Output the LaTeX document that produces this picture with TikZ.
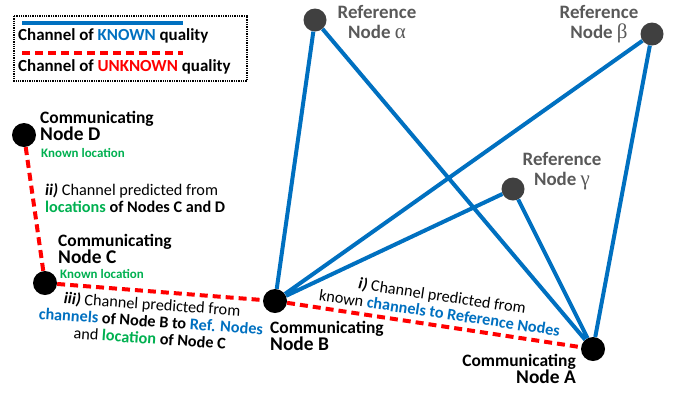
\documentclass[tikz,border=0pt]{standalone}
\usepackage{fontspec}
\setmainfont{Carlito}
\newfontfamily\greekfont{Liberation Serif}
\usepackage{xcolor}
\usetikzlibrary{positioning}
\definecolor{chblue}{HTML}{0070C0}
\definecolor{chred}{HTML}{FF0000}
\definecolor{locgreen}{HTML}{00B050}
\definecolor{refgray}{HTML}{404040}
\definecolor{reftext}{HTML}{595959}
\newcommand{\nodeline}[1]{{\fontsize{19.5}{20}\selectfont #1}}
\newcommand{\commline}[1]{{\fontsize{17.5}{20}\selectfont #1}}
\newcommand{\grk}[1]{{\greekfont\mdseries\fontsize{21}{20}\selectfont #1}}
\tikzset{
 commnode/.style={circle,fill=black,minimum size=24bp,inner sep=0pt},
 refnode/.style={circle,fill=refgray,minimum size=23bp,inner sep=0pt},
 known/.style={chblue,line width=4bp},
 unknown/.style={chred,line width=4bp,dash pattern=on 8bp off 5bp},
 lbl/.style={font=\bfseries,inner sep=0pt},
 reflbl/.style={lbl,text=reftext,align=center,font=\bfseries\fontsize{19}{20.5}\selectfont},
 knownloc/.style={font=\bfseries\fontsize{13}{14}\selectfont,text=locgreen,inner sep=0pt},
 note/.style={inner sep=0pt,font=\fontsize{16.3}{17.2}\selectfont},
 keytext/.style={lbl,anchor=west,font=\bfseries\fontsize{17}{18}\selectfont}
}
\begin{document}
\begin{tikzpicture}[x=1bp,y=-1bp]
\useasboundingbox (0,0) rectangle (677,392);
\node[refnode] (alpha) at (315,20) {};
\node[refnode] (beta) at (652,34) {};
\node[refnode] (gamma) at (513,189) {};
\node[commnode] (D) at (24,135) {};
\node[commnode] (C) at (45,283) {};
\node[commnode] (B) at (275,301) {};
\node[commnode] (A) at (593,349) {};
\draw[known] (alpha)--(B) (alpha)--(A) (beta)--(B) (beta)--(A) (gamma)--(B) (gamma)--(A);
\draw[unknown] (D)--(C) (C)--(B) (B)--(A);
\node[reflbl] (alphalbl) at (377,22) {Reference\\Node \grk{α}};
\node[reflbl] (betalbl) at (599,24) {Reference\\Node \grk{β}};
\node[reflbl] (gammalbl) at (562,171) {Reference\\Node \grk{γ}};
\node[lbl,align=left,anchor=west] (Dlbl) at (40,126) {\commline{Communicating}\\\nodeline{Node D}};
\node[knownloc,anchor=west] (Dloc) at (41,153) {Known location};
\node[lbl,align=left,anchor=west] (Clbl) at (58,249) {\commline{Communicating}\\\nodeline{Node C}};
\node[knownloc,anchor=west] (Cloc) at (60,274) {Known location};
\node[lbl,align=left,anchor=west] (Blbl) at (270,336) {\commline{Communicating}\\\nodeline{Node B}};
\node[lbl,align=right,anchor=east] (Albl) at (576,369) {\commline{Communicating}\\\nodeline{Node A}};
\node[note,align=left,anchor=west] (ii) at (45,198) {\textbf{\textit{ii)}} Channel predicted from\\\textbf{\textcolor{locgreen}{locations} of Nodes C and D}};
\node[note,align=center,rotate=-4] (iii) at (151,321) {\textbf{\textit{iii)}} Channel predicted from\\\textbf{\textcolor{chblue}{channels} of Node B to \textcolor{chblue}{Ref. Nodes}}\\and \textbf{\textcolor{locgreen}{location} of Node C}};
\node[note,align=center,rotate=-8.5] (i) at (441,304) {\textbf{\textit{i)}} Channel predicted from\\known \textbf{\textcolor{chblue}{channels to Reference Nodes}}};
\draw[densely dotted,line width=1.3bp] (14,16) rectangle (247,81);
\coordinate (k1) at (22,23); \coordinate (k2) at (183,23);
\coordinate (u1) at (22,53); \coordinate (u2) at (183,53);
\draw[known] (k1)--(k2);
\draw[unknown] (u1)--(u2);
\node[keytext] (knownkey) at (18,36) {Channel of \textcolor{chblue}{KNOWN} quality};
\node[keytext] (unknownkey) at (18,67) {Channel of \textcolor{chred}{UNKNOWN} quality};
\end{tikzpicture}
\end{document}
